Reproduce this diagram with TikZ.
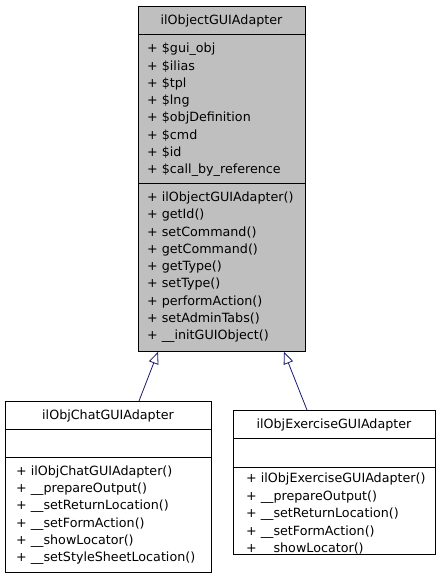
\documentclass[tikz,border=0pt]{standalone}
\usepackage{fontspec}
\setmainfont{DejaVu Sans}
\usetikzlibrary{arrows.meta}
\definecolor{boxgray}{HTML}{BFBFBF}
\definecolor{inhblue}{HTML}{191970}
\begin{document}
\begin{tikzpicture}[x=1pt,y=-1pt,
  box/.style={draw=black, line width=0.9pt, inner sep=0pt, anchor=north west},
  sep/.style={draw=black, line width=0.9pt},
  txt/.style={inner sep=0pt, text height=11pt, text depth=2pt, anchor=west, font=\fontsize{12.7}{15}\selectfont},
  ttl/.style={inner sep=0pt, text height=11pt, text depth=2pt, anchor=center, font=\fontsize{12.7}{15}\selectfont},
  inh/.style={draw=inhblue, line width=0.8pt, -{Triangle[open, length=12pt, width=10pt, fill=white]}}]
\useasboundingbox (0,0) rectangle (440,579);

% base class
\node[box, fill=boxgray, minimum width=167pt, minimum height=345pt] (base) at (138,6) {};
\draw[sep] (138,34) -- (305,34);
\draw[sep] (138,183) -- (305,183);
\node[ttl] (baset) at (221.5,20) {ilObjectGUIAdapter};
\foreach \t [count=\i] in {+ \$gui\_obj, + \$ilias, + \$tpl, + \$lng, + \$objDefinition, + \$cmd, + \$id, + \$call\_by\_reference}
  \node[txt] (ba\i) at (147,{48.3+17.25*(\i-1)}) {\t};
\foreach \t [count=\i] in {+ ilObjectGUIAdapter(), + getId(), + setCommand(), + getCommand(), + getType(), + setType(), + performAction(), + setAdminTabs(), + \_\_initGUIObject()}
  \node[txt] (bm\i) at (147,{197+17.25*(\i-1)}) {\t};

% chat class
\node[box, fill=white, minimum width=206pt, minimum height=171pt] (chat) at (5,401) {};
\draw[sep] (5,429) -- (211,429);
\draw[sep] (5,457) -- (211,457);
\node[ttl] (chatt) at (108,415) {ilObjChatGUIAdapter};
\foreach \t [count=\i] in {+ ilObjChatGUIAdapter(), + \_\_prepareOutput(), + \_\_setReturnLocation(), + \_\_setFormAction(), + \_\_showLocator(), + \_\_setStyleSheetLocation()}
  \node[txt] (cm\i) at (16,{471+17.2*(\i-1)}) {\t};

% exercise class
\node[box, fill=white, minimum width=202pt, minimum height=144pt] (exer) at (233,410) {};
\draw[sep] (233,438) -- (435,438);
\draw[sep] (233,467) -- (435,467);
\node[ttl] (exert) at (334,424) {ilObjExerciseGUIAdapter};
\foreach \t [count=\i] in {+ ilObjExerciseGUIAdapter(), + \_\_prepareOutput(), + \_\_setReturnLocation(), + \_\_setFormAction(), + \_\_showLocator()}
  \node[txt] (em\i) at (246,{478+17.6*(\i-1)}) {\t};

% inheritance
\draw[inh] ([xshift=134pt]chat.north west) -- ([xshift=20pt]base.south west);
\draw[inh] ([xshift=74pt]exer.north west) -- ([xshift=146pt]base.south west);
\end{tikzpicture}
\end{document}
